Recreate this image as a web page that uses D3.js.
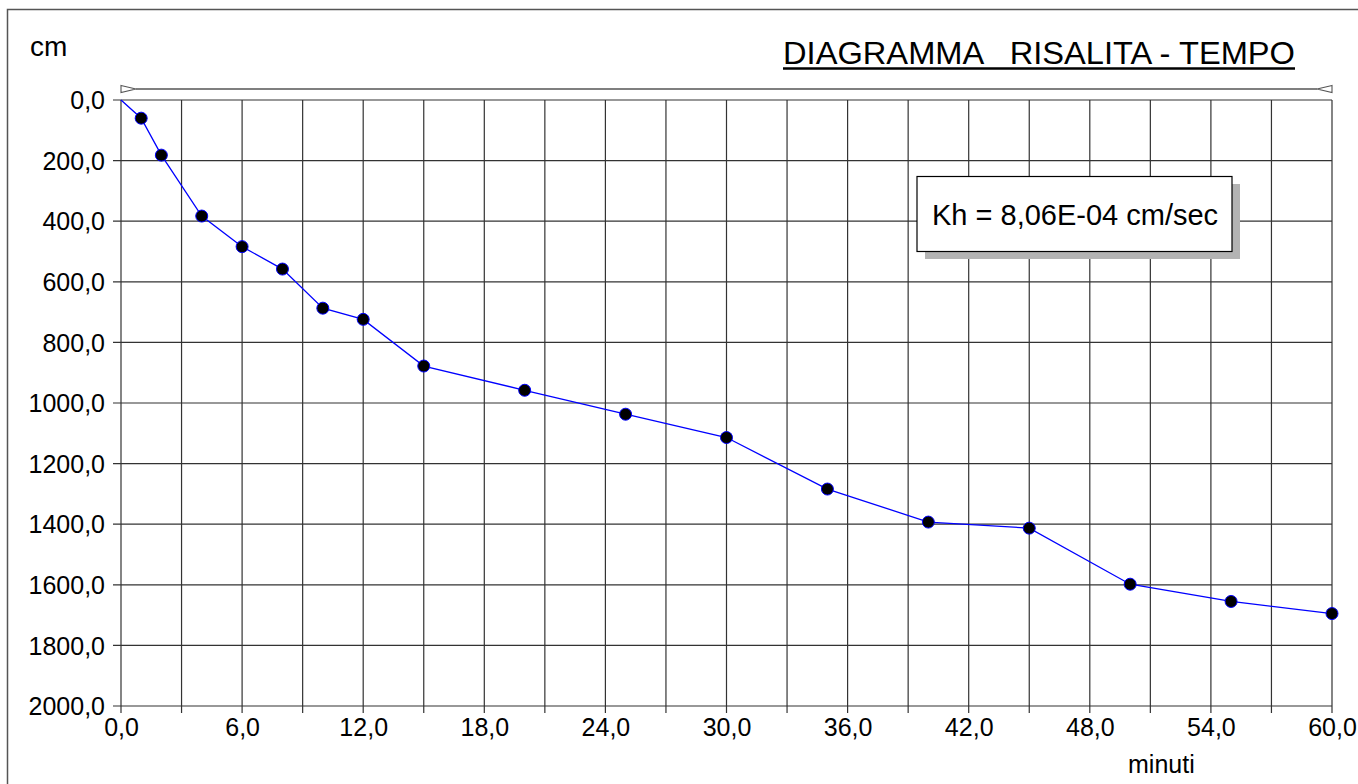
<!DOCTYPE html>
<html>
<head>
<meta charset="utf-8">
<script src="https://cdn.jsdelivr.net/npm/d3@7"></script>
<style>
  html, body { margin: 0; padding: 0; background: #fff; }
  svg { display: block; font-family: "Liberation Sans", Arial, sans-serif; }
</style>
</head>
<body>
<svg id="chart" width="1358" height="784"></svg>
<script>
// ---- data ----
const minutes = [0, 1, 2, 4, 6, 8, 10, 12, 15, 20, 25, 30, 35, 40, 45, 50, 55, 60];
const risalita = [0, 60, 182, 383, 484, 558, 687, 724, 878, 958, 1037, 1114, 1284, 1393, 1413, 1598, 1655, 1695];
const xTicks = [0, 6, 12, 18, 24, 30, 36, 42, 48, 54, 60];
const xGrid = d3.range(0, 61, 3);
const yTicks = [0, 200, 400, 600, 800, 1000, 1200, 1400, 1600, 1800, 2000];
const titleText = "DIAGRAMMA   RISALITA - TEMPO";
const yUnit = "cm";
const xUnit = "minuti";
const khText = "Kh = 8,06E-04 cm/sec";

const fmt = d => d3.format(".1f")(d).replace(".", ",");

const svg = d3.select("#chart");
const x = d3.scaleLinear().domain([0, 60]).range([121, 1332]);
const y = d3.scaleLinear().domain([0, 2000]).range([100, 706]);

// outer frame (left + top)
svg.append("path")
  .attr("d", "M7.5,784 L7.5,9.5 L1358,9.5")
  .attr("fill", "none").attr("stroke", "#555").attr("stroke-width", 1.5);

// grid
const g = svg.append("g");
g.selectAll("line.v").data(xGrid).join("line")
  .attr("x1", d => x(d)).attr("x2", d => x(d))
  .attr("y1", y(0)).attr("y2", y(2000) + 7)
  .attr("stroke", "#333").attr("stroke-width", 1.2);
g.selectAll("line.h").data(yTicks).join("line")
  .attr("x1", x(0) - 8).attr("x2", x(60))
  .attr("y1", d => y(d)).attr("y2", d => y(d))
  .attr("stroke", "#333").attr("stroke-width", 1.2);

// axes labels via d3 axes
const xAxis = d3.axisBottom(x).tickValues(xTicks).tickFormat(fmt).tickSize(0).tickPadding(0);
const xa = svg.append("g").attr("transform", `translate(0,${y(2000)})`).call(xAxis);
xa.select(".domain").remove();
xa.selectAll("text").attr("font-size", 25).attr("fill", "#000")
  .attr("font-family", "Liberation Sans, Arial, sans-serif").attr("dy", null).attr("y", 30);

const yAxis = d3.axisLeft(y).tickValues(yTicks).tickFormat(fmt).tickSize(0).tickPadding(16);
const ya = svg.append("g").attr("transform", `translate(${x(0)},0)`).call(yAxis);
ya.select(".domain").remove();
ya.selectAll("text").attr("font-size", 25).attr("fill", "#000")
  .attr("font-family", "Liberation Sans, Arial, sans-serif").attr("dy", "0.35em");

// top line with triangle markers
const topY = 89;
svg.append("line").attr("x1", x(0) + 15).attr("x2", x(60) - 15)
  .attr("y1", topY).attr("y2", topY).attr("stroke", "#555").attr("stroke-width", 1.3);
svg.append("path")
  .attr("d", `M${x(0)},${topY - 3.5} L${x(0) + 15},${topY} L${x(0)},${topY + 3.5} Z`)
  .attr("fill", "#fff").attr("stroke", "#555").attr("stroke-width", 1.1);
svg.append("path")
  .attr("d", `M${x(60)},${topY - 3.5} L${x(60) - 15},${topY} L${x(60)},${topY + 3.5} Z`)
  .attr("fill", "#fff").attr("stroke", "#555").attr("stroke-width", 1.1);

// data line
const pts = minutes.map((m, i) => [m, risalita[i]]);
svg.append("path").datum(pts)
  .attr("d", d3.line().x(d => x(d[0])).y(d => y(d[1])))
  .attr("fill", "none").attr("stroke", "#0000ff").attr("stroke-width", 1.3);
svg.selectAll("circle.pt").data(pts.slice(1)).join("circle")
  .attr("cx", d => x(d[0])).attr("cy", d => y(d[1])).attr("r", 6)
  .attr("fill", "#000").attr("stroke", "#0000ff").attr("stroke-width", 1);

// Kh box with shadow
svg.append("rect").attr("x", 925).attr("y", 184).attr("width", 315).attr("height", 75).attr("fill", "#b3b3b3");
svg.append("rect").attr("x", 917).attr("y", 176.5).attr("width", 315).attr("height", 75)
  .attr("fill", "#fff").attr("stroke", "#000").attr("stroke-width", 1.2);
svg.append("text").attr("x", 932).attr("y", 225).attr("font-size", 29).attr("fill", "#000").text(khText);

// title with underline
const title = svg.append("text").attr("x", 783).attr("y", 64).attr("font-size", 32)
  .style("white-space", "pre").attr("fill", "#000")
  .attr("textLength", 512).attr("lengthAdjust", "spacingAndGlyphs").text(titleText);
svg.append("line").attr("x1", 783).attr("x2", 1295).attr("y1", 68.5).attr("y2", 68.5)
  .attr("stroke", "#000").attr("stroke-width", 2.5);

// units
svg.append("text").attr("x", 30).attr("y", 56).attr("font-size", 28).attr("fill", "#000").text(yUnit);
svg.append("text").attr("x", 1128).attr("y", 773).attr("font-size", 25).attr("fill", "#000").text(xUnit);
</script>
</body>
</html>
